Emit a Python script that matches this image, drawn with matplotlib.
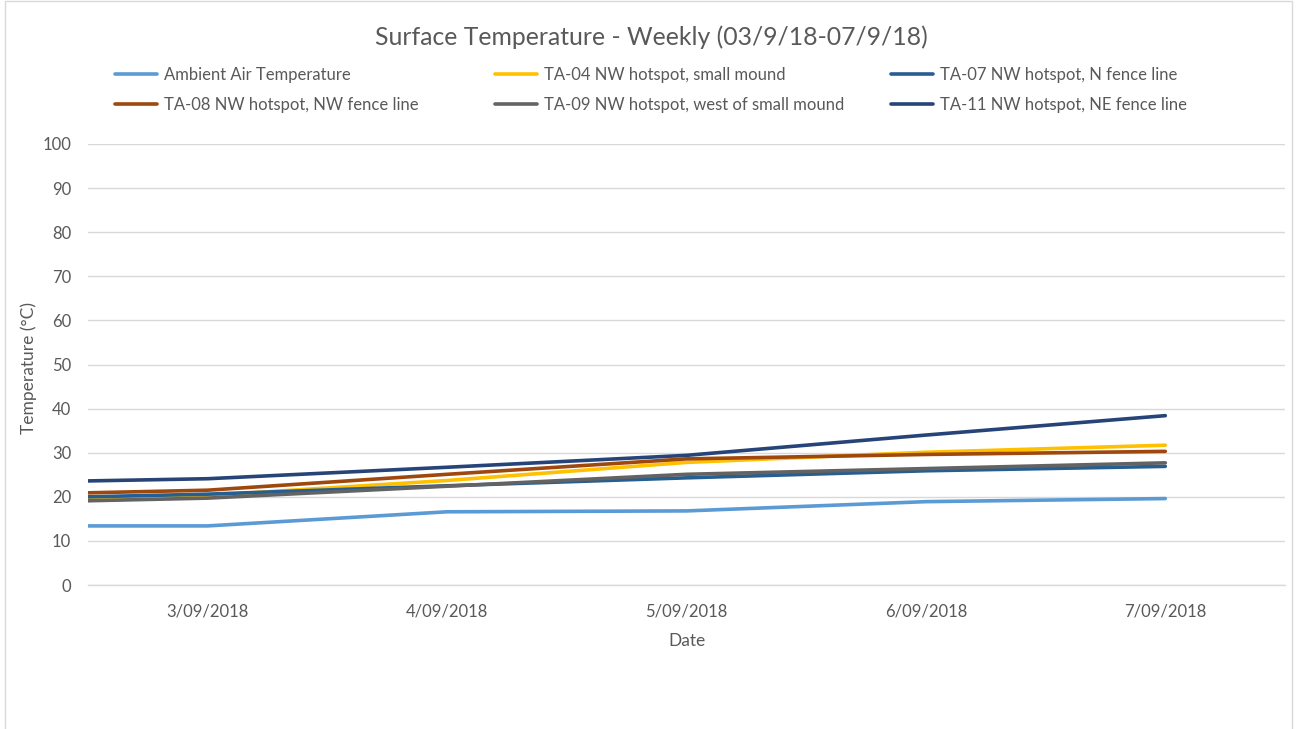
import matplotlib

matplotlib.use("Agg")

import matplotlib.pyplot as plt
from matplotlib.patches import Rectangle

# day of September 2018 for each reading (first reading sits half a day before 3/09)
days = [2.5, 3, 4, 5, 6, 7]
tick_days = [3, 4, 5, 6, 7]
tick_labels = ["3/09/2018", "4/09/2018", "5/09/2018", "6/09/2018", "7/09/2018"]

ambient = [13.4, 13.4, 16.6, 16.8, 18.9, 19.6]
ta04 = [19.7, 20.3, 23.7, 27.8, 30.1, 31.7]
ta07 = [20.0, 20.6, 22.5, 24.3, 25.9, 26.9]
ta08 = [20.9, 21.5, 25.1, 28.6, 29.6, 30.3]
ta09 = [19.1, 19.7, 22.4, 25.1, 26.4, 27.7]
ta11 = [23.6, 24.1, 26.7, 29.4, 34.0, 38.4]

series = [
    ("Ambient Air Temperature", ambient, "#5B9BD5"),
    ("TA-04 NW hotspot, small mound", ta04, "#FFC000"),
    ("TA-07 NW hotspot, N fence line", ta07, "#255E91"),
    ("TA-08 NW hotspot, NW fence line", ta08, "#9E480E"),
    ("TA-09 NW hotspot, west of small mound", ta09, "#636363"),
    ("TA-11 NW hotspot, NE fence line", ta11, "#264478"),
]

plt.rcParams["font.family"] = ["Lato", "DejaVu Sans"]
text_color = "#595959"
grid_color = "#D9D9D9"

W, H = 1298, 729
fig = plt.figure(figsize=(W / 100, H / 100), dpi=100)
ax = fig.add_axes([88 / W, 1 - 585 / H, (1285 - 88) / W, (585 - 144) / H])

lines = []
for label, values, color in series:
    (line,) = ax.plot(days, values, color=color, linewidth=2.6, label=label,
                      solid_capstyle="round", solid_joinstyle="round")
    lines.append(line)

ax.set_xlim(2.5, 7.5)
ax.set_ylim(0, 100)
ax.set_yticks(range(0, 101, 10))
ax.set_xticks(tick_days)
ax.set_xticklabels(tick_labels)
ax.tick_params(axis="both", length=0, labelsize=12, colors=text_color)
ax.tick_params(axis="y", pad=12)
ax.tick_params(axis="x", pad=13)
ax.grid(axis="y", color=grid_color, linewidth=1)
ax.set_axisbelow(True)
for side in ["top", "right", "left"]:
    ax.spines[side].set_visible(False)
ax.spines["bottom"].set_color(grid_color)
ax.spines["bottom"].set_linewidth(1)

ax.set_xlabel("Date", fontsize=12.5, color=text_color, labelpad=10)
ax.set_ylabel("Temperature (°C)", fontsize=12.5, color=text_color)
ax.yaxis.set_label_coords((37 - 88) / (1285 - 88), 0.5 - 4 / (585 - 144))

fig.text(651 / W, 1 - 37 / H, "Surface Temperature - Weekly (03/9/18-07/9/18)",
         ha="center", va="center", fontsize=17.8, color=text_color)

# legend laid out like Excel: three equal columns of two rows
col_x = [115, 495, 891]
for col, x in enumerate(col_x):
    handles = [lines[col], lines[col + 3]]
    leg = fig.legend(handles=handles, loc="upper left",
                     bbox_to_anchor=(x / W, 1 - 67 / H), frameon=False,
                     fontsize=12, handlelength=2.5, handletextpad=0.45,
                     labelspacing=0.85, borderaxespad=0, borderpad=0)
    for t in leg.get_texts():
        t.set_color(text_color)

fig.patches.append(Rectangle((5 / W, -0.1), (1292 - 5) / W, 1.1 - 1 / H,
                             transform=fig.transFigure, fill=False,
                             edgecolor=grid_color, linewidth=1))

fig.savefig("out.png", dpi=100, facecolor="white")
